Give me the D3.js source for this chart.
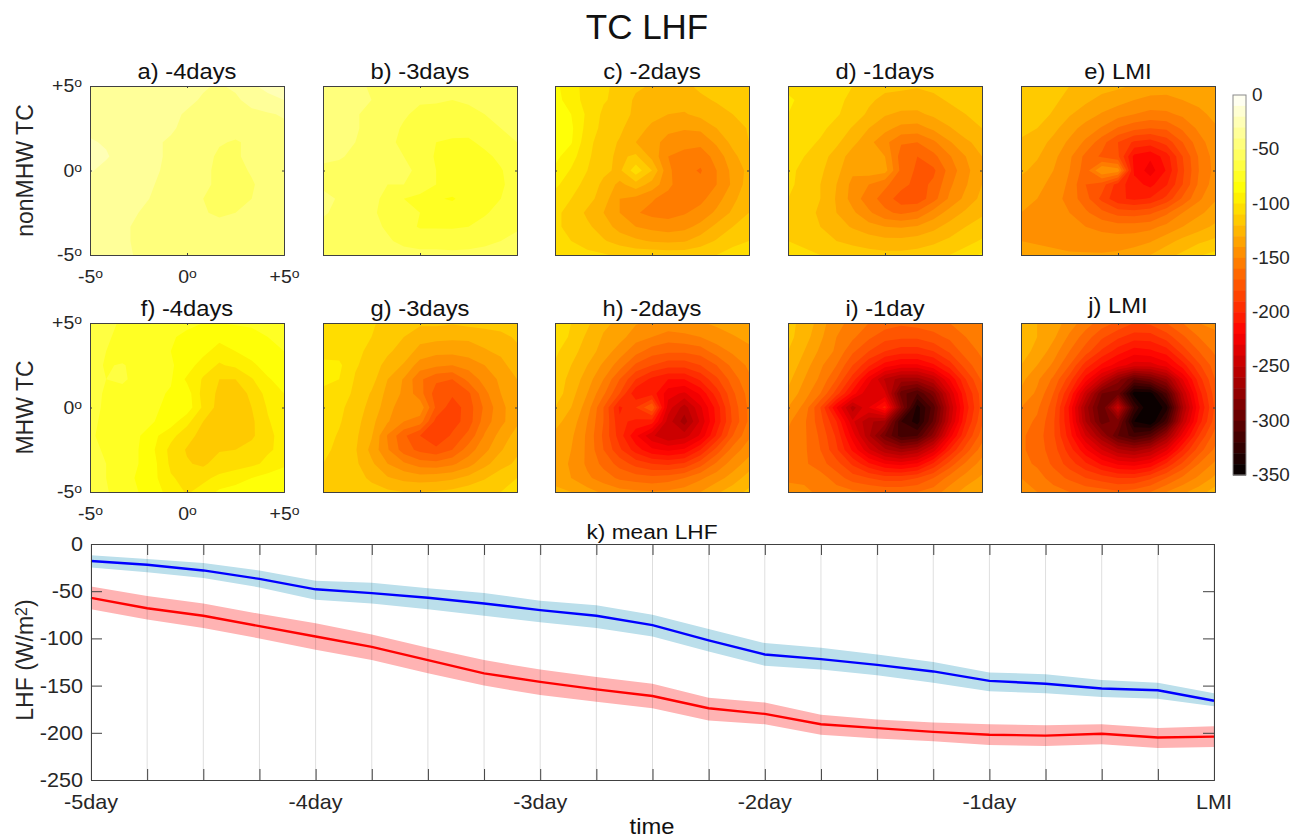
<!DOCTYPE html>
<html>
<head>
<meta charset="utf-8">
<title>TC LHF</title>
<script src="https://cdn.jsdelivr.net/npm/d3@7"></script>
<style>
  html, body { margin: 0; padding: 0; background: #fff; }
  svg { display: block; }
  text { font-family: "Liberation Sans", Arial, sans-serif; fill: #262626; }
</style>
</head>
<body>
<div id="vis"></div>
<script>
// LHF magnitude on a 13x13 grid (W/m2, drawn as negative), first row is +5 deg, last row -5 deg
const gridA = [
  [33,34,35,35,36,37,38,39,41,38,31,28,29],
  [33,34,35,35,36,37,38,41,43,42,36,32,30],
  [32,33,34,35,36,38,41,43,44,44,43,41,39],
  [32,33,34,35,37,39,42,44,45,46,45,44,42],
  [29,31,33,35,39,41,43,45,49,51,48,46,44],
  [27,29,34,36,39,41,44,46,52,51,48,46,44],
  [29,33,35,37,39,42,44,48,52,53,49,46,44],
  [34,35,36,38,40,41,45,49,51,53,51,46,45],
  [35,36,37,38,41,43,45,50,53,53,50,46,44],
  [36,37,38,40,42,44,46,49,52,50,47,45,44],
  [37,38,39,41,43,44,45,46,46,46,45,44,43],
  [37,38,39,41,43,44,44,45,45,44,44,43,43],
  [36,37,38,41,42,43,43,44,44,44,43,43,42]
];
const gridB = [
  [45,46,48,51,52,53,54,55,55,54,54,53,53],
  [46,46,49,50,54,56,59,59,60,59,57,55,54],
  [46,47,49,53,56,59,62,63,62,62,60,58,56],
  [46,47,49,53,57,61,64,64,65,66,62,60,58],
  [47,47,50,54,59,61,66,70,72,72,67,63,60],
  [48,49,52,55,58,60,65,71,74,75,73,67,62],
  [52,53,54,55,57,59,61,70,74,76,76,71,63],
  [52,53,54,56,60,60,66,70,74,77,77,72,64],
  [47,51,54,58,62,70,72,79,81,76,75,70,63],
  [49,52,55,58,64,68,70,74,75,74,71,67,62],
  [52,53,55,58,61,66,71,71,71,70,67,64,61],
  [53,54,55,56,59,62,63,63,64,63,62,60,58],
  [53,54,54,55,56,57,58,58,58,58,57,56,55]
];
const gridC = [
  [88,95,105,108,113,118,121,122,122,118,115,112,110],
  [86,95,104,109,113,122,123,126,125,122,119,116,114],
  [85,90,102,112,116,122,127,130,131,127,124,120,117],
  [84,88,104,113,118,126,132,138,139,138,130,125,119],
  [84,89,107,115,121,130,137,143,147,147,138,127,120],
  [87,96,108,117,122,118,133,150,153,156,146,133,123],
  [92,101,110,118,122,104,120,148,157,161,150,137,127],
  [98,105,114,122,133,124,134,147,158,157,150,138,125],
  [104,110,116,125,140,143,149,154,158,153,144,133,122],
  [108,113,122,130,140,149,153,154,151,146,138,128,120],
  [108,113,118,125,134,140,143,145,143,137,127,120,114],
  [106,110,115,119,124,128,131,132,131,125,119,113,110],
  [102,105,107,109,112,113,113,114,114,113,110,106,100]
];
const gridD = [
  [103,103,104,107,110,114,117,118,119,118,116,114,113],
  [98,103,105,108,112,118,123,124,125,122,119,116,114],
  [100,104,106,109,114,122,129,132,132,128,123,120,117],
  [104,106,108,113,121,130,137,143,144,138,131,124,120],
  [104,107,111,118,127,137,147,159,160,152,141,132,126],
  [106,110,116,124,135,138,140,165,170,163,151,140,130],
  [108,112,118,127,138,134,136,163,172,172,156,143,132],
  [108,113,120,130,143,150,158,166,174,168,152,141,130],
  [110,114,120,131,144,156,164,176,177,164,148,137,127],
  [112,115,122,130,138,148,158,162,158,146,136,128,122],
  [112,115,120,126,131,136,140,141,139,133,126,120,115],
  [110,112,116,120,123,125,127,127,125,122,118,113,109],
  [106,108,110,112,114,116,117,117,116,114,110,106,98]
];
const gridE = [
  [113,114,116,120,124,126,128,131,134,135,137,137,135],
  [113,115,118,123,128,133,136,140,143,143,140,138,136],
  [113,116,121,129,135,141,146,150,153,152,148,142,138],
  [118,120,127,136,144,151,161,167,170,168,158,148,141],
  [121,125,133,142,152,166,180,192,195,186,170,154,144],
  [124,129,137,148,163,172,178,213,218,205,180,159,146],
  [128,133,140,150,165,140,145,212,225,209,182,160,147],
  [134,137,143,152,170,175,195,206,213,201,180,158,145],
  [138,140,145,154,166,183,198,202,199,187,168,152,141],
  [140,141,144,150,158,167,174,175,172,162,150,142,136],
  [142,142,143,146,150,153,155,155,153,147,140,134,128],
  [140,141,142,143,144,145,145,144,141,134,127,122,118],
  [136,137,138,139,139,139,138,135,130,123,118,111,107]
];
const gridF = [
  [64,66,72,73,74,76,78,80,80,79,79,78,76],
  [65,68,74,76,77,79,82,85,86,85,82,80,78],
  [66,70,76,77,78,80,83,86,96,90,86,83,80],
  [66,71,69,74,76,79,84,96,101,98,92,86,82],
  [66,70,68,74,77,79,92,101,110,110,101,91,86],
  [67,71,74,76,78,81,85,104,112,115,108,96,90],
  [68,71,75,77,79,82,84,102,114,115,110,99,91],
  [68,72,76,78,80,85,97,110,116,117,112,101,94],
  [69,72,76,79,88,97,106,114,118,117,112,102,97],
  [68,71,75,80,90,103,111,114,111,110,106,101,98],
  [67,70,74,80,88,102,109,112,105,104,102,98,92],
  [66,70,74,82,88,99,103,102,98,95,90,86,84],
  [65,69,75,80,85,95,101,97,88,85,84,82,80]
];
const gridG = [
  [102,104,106,108,115,118,118,118,119,117,116,114,112],
  [102,104,106,110,116,120,127,127,128,128,126,124,118],
  [103,104,107,113,118,125,133,137,137,135,131,128,123],
  [98,98,109,114,124,131,145,148,150,146,140,133,125],
  [97,100,111,116,130,141,158,168,170,157,146,138,130],
  [103,105,112,121,133,142,156,175,178,172,153,140,132],
  [105,108,114,124,135,148,143,172,186,175,158,143,133],
  [105,109,116,127,139,150,155,184,185,175,155,143,132],
  [106,111,118,129,151,168,180,190,178,167,149,136,126],
  [108,112,119,133,149,165,173,177,170,155,143,131,122],
  [110,112,118,128,140,148,155,156,152,144,133,124,118],
  [112,113,116,122,129,133,135,134,132,127,121,114,110],
  [113,114,115,116,118,120,120,119,117,114,112,110,107]
];
const gridH = [
  [107,110,118,128,132,139,142,143,142,141,138,135,130],
  [102,112,122,131,136,146,150,155,153,150,145,141,137],
  [108,116,125,134,145,156,165,168,168,165,155,148,143],
  [111,120,130,142,155,172,180,186,186,180,170,157,148],
  [114,123,135,150,170,190,203,210,210,198,182,165,152],
  [114,126,140,158,180,208,204,226,232,218,195,172,156],
  [120,130,145,170,202,190,170,235,255,232,206,176,158],
  [127,134,150,170,198,202,205,245,265,238,207,178,158],
  [132,138,152,172,195,218,238,250,245,228,198,170,152],
  [134,140,152,170,188,205,218,222,218,200,176,156,144],
  [136,141,152,163,174,184,190,192,188,174,158,145,136],
  [134,140,148,155,162,165,167,165,160,152,144,136,125],
  [127,130,136,142,146,148,149,148,145,140,132,124,118]
];
const gridI = [
  [118,122,135,148,152,160,165,168,166,165,160,155,150],
  [117,125,138,150,158,168,176,178,178,173,168,160,155],
  [120,130,142,152,168,180,190,195,195,190,178,165,158],
  [122,135,148,160,180,198,215,222,222,212,195,175,162],
  [127,140,152,170,195,225,252,265,265,250,220,190,168],
  [132,145,160,185,215,240,238,295,310,285,240,200,175],
  [140,153,180,220,255,230,206,280,335,305,250,205,176],
  [148,158,176,200,238,258,265,320,335,298,245,200,172],
  [152,158,172,192,225,258,290,315,310,275,225,190,165],
  [152,158,170,188,212,238,258,268,260,235,200,175,155],
  [156,158,166,176,192,208,220,224,218,198,176,158,146],
  [152,152,155,165,175,180,185,185,180,170,156,146,138],
  [146,148,152,155,158,160,162,162,160,155,145,136,130]
];
const gridJ = [
  [128,130,134,145,155,165,172,180,178,170,160,150,148],
  [128,130,138,152,165,178,188,195,195,185,172,160,152],
  [127,132,145,160,175,192,205,215,212,205,185,170,158],
  [130,140,152,170,195,212,225,235,235,225,205,182,165],
  [137,148,162,185,215,245,275,300,290,270,230,195,170],
  [142,152,170,200,245,290,295,345,345,310,250,205,175],
  [150,158,175,212,265,300,245,320,355,335,262,212,178],
  [155,162,178,210,260,295,285,340,350,315,250,205,175],
  [158,165,178,205,240,270,300,315,305,270,225,190,165],
  [158,165,175,195,218,240,258,265,255,232,200,175,158],
  [156,162,172,185,198,212,222,225,218,198,178,160,148],
  [150,155,165,172,180,185,190,190,182,170,158,148,138],
  [145,150,155,160,163,165,168,165,160,150,142,135,125]
];

const panelGrids = [gridA, gridB, gridC, gridD, gridE, gridF, gridG, gridH, gridI, gridJ];
const panelTitles = ['a) -4days', 'b) -3days', 'c) -2days', 'd) -1days', 'e) LMI',
                     'f) -4days', 'g) -3days', 'h) -2days', 'i) -1day', 'j) LMI'];
const rowLabels = ['nonMHW TC', 'MHW TC'];
const degTicks = [-5, 0, 5];
const colorbarTicks = [0, -50, -100, -150, -200, -250, -300, -350];

// mean LHF time series, one value every 6 hours
const timeSteps = [-5, -4.75, -4.5, -4.25, -4, -3.75, -3.5, -3.25, -3, -2.75, -2.5,
                   -2.25, -2, -1.75, -1.5, -1.25, -1, -0.75, -0.5, -0.25, 0];
const timeLabelValues = [-5, -4, -3, -2, -1, 0];
const timeLabels = ['-5day', '-4day', '-3day', '-2day', '-1day', 'LMI'];
const lhfTicks = [0, -50, -100, -150, -200, -250];

const nonMhwMean = [-18, -22, -28, -37, -48, -52, -57, -63, -70, -76, -86, -102, -117, -122, -128, -135, -145, -148, -153, -155, -166];
const nonMhwUpper = [-12, -16, -20, -28, -39, -41, -47, -52, -60, -65, -75, -90, -105, -110, -117, -125, -136, -138, -144, -147, -158];
const nonMhwLower = [-25, -30, -36, -46, -59, -63, -69, -76, -83, -89, -98, -114, -129, -133, -139, -147, -156, -158, -162, -164, -172];
const mhwMean = [-57, -68, -76, -87, -98, -109, -123, -137, -146, -154, -161, -174, -180, -191, -195, -199, -202, -203, -201, -205, -204];
const mhwUpper = [-45, -55, -63, -74, -84, -96, -110, -123, -133, -141, -148, -163, -168, -181, -186, -189, -191, -192, -191, -195, -193];
const mhwLower = [-69, -80, -89, -100, -112, -123, -137, -150, -160, -167, -174, -187, -191, -202, -206, -209, -213, -214, -212, -216, -215];

const width = 1290;
const height = 839;
const textStretch = 1.08; // the figure was stretched sideways a little
const axisColor = '#404040';

const panelWidth = 194;
const panelHeight = 169;
const colLeft = [90, 323, 555, 788, 1021];
const rowTop = [86, 323];

const svg = d3.select('#vis')
    .append('svg')
    .attr('width', width)
    .attr('height', height);

// same colours as a flipped hot colormap, in 35 steps of 10 W/m2
const hotColor = d3.scaleLinear()
    .domain([-350, -218.75, -87.5, 0])
    .range(['#000000', '#ff0000', '#ffff00', '#ffffff'])
    .clamp(true);
const levels = d3.range(0, 350, 10);

// text helper, text is widened with a scale on its own group
function addLabel(parent, x, y, str, size, anchor, sx) {
    return parent.append('text')
        .attr('transform', `translate(${x},${y}) scale(${sx || textStretch},1)`)
        .attr('text-anchor', anchor || 'middle')
        .style('font-size', size + 'px')
        .text(str);
}

function degLabel(d) {
    return (d > 0 ? '+' : '') + d;
}

// widen axis tick text and add a raised "o" for the degree sign
function styleDegTicks(axisG, size) {
    axisG.selectAll('.tick text').each(function(d) {
        const t = d3.select(this);
        const x = +t.attr('x') || 0;
        t.attr('x', x / textStretch)
            .attr('transform', `scale(${textStretch},1)`)
            .style('font-size', size + 'px')
            .text(degLabel(d));
        t.append('tspan')
            .attr('dy', '-0.4em')
            .style('font-size', (size * 0.72) + 'px')
            .text('o');
    });
}

panelGrids.forEach((grid, i) => {
    const col = i % 5;
    const row = Math.floor(i / 5);
    const g = svg.append('g')
        .attr('transform', `translate(${colLeft[col]},${rowTop[row]})`);

    const clipId = `clip-${i}`;
    g.append('clipPath').attr('id', clipId)
        .append('rect')
        .attr('width', panelWidth)
        .attr('height', panelHeight);

    // d3.contours puts the samples at cell centres
    const gridX = d3.scaleLinear().domain([0.5, 12.5]).range([0, panelWidth]);
    const gridY = d3.scaleLinear().domain([0.5, 12.5]).range([0, panelHeight]);
    const path = d3.geoPath(d3.geoTransform({
        point(x, y) { this.stream.point(gridX(x), gridY(y)); }
    }));

    const contours = d3.contours()
        .size([13, 13])
        .thresholds(levels)(grid.flat());

    g.append('g')
        .attr('clip-path', `url(#${clipId})`)
        .selectAll('path')
        .data(contours)
        .join('path')
        .attr('d', path)
        .attr('fill', d => hotColor(-(d.value + 5)));

    // axes
    const x = d3.scaleLinear().domain([-5, 5]).range([0, panelWidth]);
    const y = d3.scaleLinear().domain([-5, 5]).range([panelHeight, 0]);
    const hasLabels = col === 0;

    const axes = [
        d3.axisBottom(x).tickValues(degTicks).tickSize(-2).tickPadding(hasLabels ? 15 : 3),
        d3.axisTop(x).tickValues(degTicks).tickSize(-2).tickFormat(''),
        d3.axisLeft(y).tickValues(degTicks).tickSize(-2).tickPadding(8),
        d3.axisRight(y).tickValues(degTicks).tickSize(-2).tickFormat('')
    ];
    const shifts = [`translate(0,${panelHeight})`, 'translate(0,0)', 'translate(0,0)', `translate(${panelWidth},0)`];
    axes.forEach((axis, k) => {
        if ((k === 0 || k === 2) && !hasLabels) axis.tickFormat('');
        const a = g.append('g')
            .attr('transform', shifts[k])
            .call(axis);
        a.selectAll('line, path').attr('stroke', axisColor).attr('stroke-width', 1);
        if ((k === 0 || k === 2) && hasLabels) styleDegTicks(a, 18);
    });

    // panel j sits a bit higher in the original
    addLabel(g, panelWidth / 2, i === 9 ? -10 : -7, panelTitles[i], 22)
        .style('fill', '#111');
});

// row labels
rowLabels.forEach((label, i) => {
    addLabel(svg.append('g').attr('transform', `translate(33,${rowTop[i] + panelHeight / 2}) rotate(-90)`),
        0, 0, label, 23, 'middle', 1);
});

// main title
addLabel(svg, 647, 39, 'TC LHF', 35, 'middle', 1).style('fill', '#111');

// colorbar
const cbar = svg.append('g').attr('transform', 'translate(1233,95)');
const cbarScale = d3.scaleLinear().domain([0, -350]).range([0, 380]);
cbar.selectAll('rect.level')
    .data(levels)
    .join('rect')
    .attr('class', 'level')
    .attr('x', 0)
    .attr('y', d => cbarScale(-d))
    .attr('width', 13)
    .attr('height', d => cbarScale(-d - 10) - cbarScale(-d) + 0.5)
    .attr('fill', d => hotColor(-(d + 5)));
cbar.append('rect')
    .attr('width', 13)
    .attr('height', 380)
    .attr('fill', 'none')
    .attr('stroke', '#8a8a8a');
colorbarTicks.forEach(t => {
    addLabel(cbar, 19, cbarScale(t) + 6, t, 18, 'start', 1.05);
});

// bottom time series
const lineLeft = 91;
const lineRight = 1214;
const lineTop = 544;
const lineBottom = 780;
const xTime = d3.scaleLinear().domain([-5, 0]).range([lineLeft, lineRight]);
const yLhf = d3.scaleLinear().domain([-250, 0]).range([lineBottom, lineTop]);

const bandArea = d3.area()
    .x((d, i) => xTime(timeSteps[i]))
    .y0(d => yLhf(d[0]))
    .y1(d => yLhf(d[1]));
const meanLine = d3.line()
    .x((d, i) => xTime(timeSteps[i]))
    .y(d => yLhf(d));

svg.append('path')
    .datum(d3.zip(nonMhwLower, nonMhwUpper))
    .attr('fill', '#bbdfeb')
    .attr('d', bandArea);
svg.append('path')
    .datum(d3.zip(mhwLower, mhwUpper))
    .attr('fill', '#ffb3b3')
    .attr('d', bandArea);

// light vertical grid goes over the bands
svg.append('g')
    .selectAll('line')
    .data(timeSteps)
    .join('line')
    .attr('x1', d => xTime(d))
    .attr('x2', d => xTime(d))
    .attr('y1', lineTop)
    .attr('y2', lineBottom)
    .attr('stroke', '#000')
    .attr('stroke-opacity', 0.13);

svg.append('path')
    .datum(nonMhwMean)
    .attr('fill', 'none')
    .attr('stroke', '#0000ff')
    .attr('stroke-width', 2.4)
    .attr('d', meanLine);
svg.append('path')
    .datum(mhwMean)
    .attr('fill', 'none')
    .attr('stroke', '#ff0000')
    .attr('stroke-width', 2.4)
    .attr('d', meanLine);

// axes with inward ticks on all four sides
const lineAxes = [
    [d3.axisBottom(xTime).tickValues(timeSteps).tickSize(-11).tickFormat(''), `translate(0,${lineBottom})`],
    [d3.axisTop(xTime).tickValues(timeSteps).tickSize(-11).tickFormat(''), `translate(0,${lineTop})`],
    [d3.axisLeft(yLhf).tickValues(lhfTicks).tickSize(-11).tickFormat(''), `translate(${lineLeft},0)`],
    [d3.axisRight(yLhf).tickValues(lhfTicks).tickSize(-11).tickFormat(''), `translate(${lineRight},0)`]
];
lineAxes.forEach(([axis, shift]) => {
    svg.append('g')
        .attr('transform', shift)
        .call(axis)
        .selectAll('line, path')
        .attr('stroke', axisColor)
        .attr('stroke-width', 1);
});

lhfTicks.forEach(t => {
    addLabel(svg, 83, yLhf(t) + 7, t, 20, 'end');
});
timeLabelValues.forEach((t, i) => {
    addLabel(svg, xTime(t), 809, timeLabels[i], 20);
});

addLabel(svg, 652, 539, 'k) mean LHF', 21).style('fill', '#111');
addLabel(svg, 652, 834, 'time', 22).style('fill', '#111');

const yTitle = addLabel(svg.append('g').attr('transform', 'translate(33,660) rotate(-90)'),
    0, 0, 'LHF (W/m', 23, 'middle', 1);
yTitle.append('tspan').attr('dy', '-0.4em').style('font-size', '16px').text('2');
yTitle.append('tspan').attr('dy', '0.28em').text(')');
</script>
</body>
</html>
